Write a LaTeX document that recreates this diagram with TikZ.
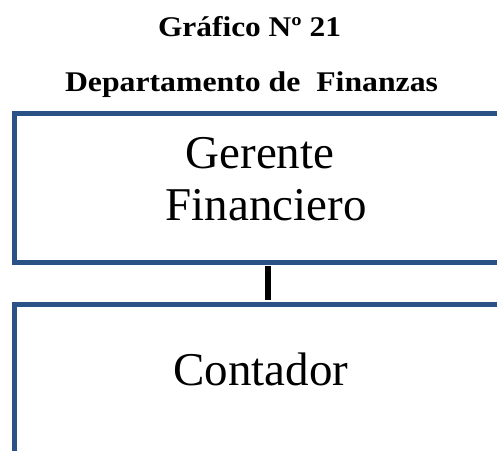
\documentclass[tikz,border=0pt]{standalone}
\usepackage{fontspec}
\usepackage{graphicx}
\setmainfont{Liberation Serif}
\definecolor{boxblue}{RGB}{42,82,135}
\tikzset{
  orgbox/.style={draw=boxblue, line width=5pt, rectangle, inner sep=0pt},
  conn/.style={draw=black, line width=6pt},
  titletext/.style={inner sep=0pt, anchor=base, font=\bfseries\fontsize{28.5}{32}\selectfont},
  boxtext/.style={inner sep=0pt, anchor=base, font=\fontsize{47}{52}\selectfont}
}
\begin{document}
\begin{tikzpicture}[x=1pt, y=-1pt]
\useasboundingbox (0,0) rectangle (497,450);
\clip (0,0) rectangle (497,450);
\fill[white] (0,0) rectangle (497,450);
\node[titletext] (t1) at (249.5,36.7) {\resizebox{183pt}{\height}{Gráfico Nº 21}};
\node[titletext] (t2) at (251.5,91) {\resizebox{373pt}{\height}{Departamento de\ \ Finanzas}};
\node[orgbox, minimum width=585.5pt, minimum height=148.5pt] (b1) at (307.25,187.75) {};
\node[orgbox, minimum width=585.5pt, minimum height=195.5pt] (b2) at (307.25,402.25) {};
\coordinate (cx) at (268,0);
\draw[conn, shorten <=1pt, shorten >=2.5pt] (b1.south -| cx) -- (b2.north -| cx);
\node[boxtext] (g1) at (260,168) {Gerente};
\node[boxtext] (g2) at (266,220) {Financiero};
\node[boxtext] (c1) at (261,385) {Contador};
\end{tikzpicture}
\end{document}
